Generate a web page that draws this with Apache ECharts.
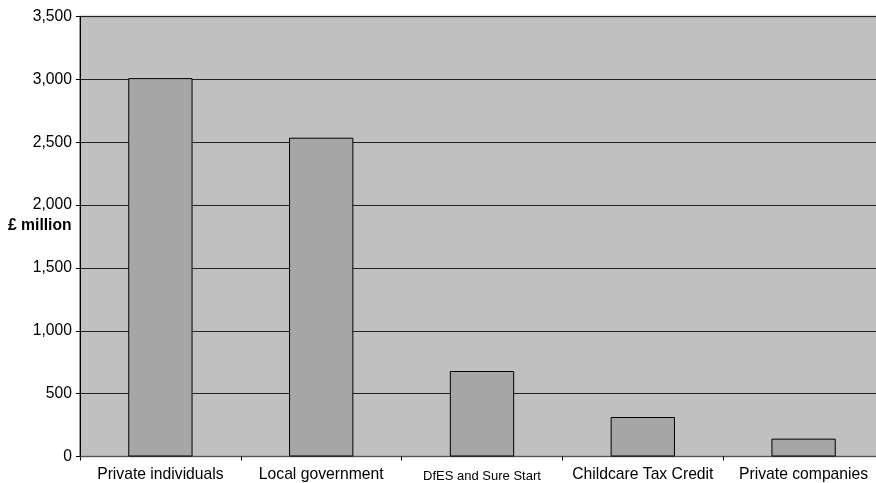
<!DOCTYPE html>
<html><head><meta charset="utf-8">
<script src="https://cdn.jsdelivr.net/npm/echarts@6/dist/echarts.min.js"></script>
<style>html,body{margin:0;padding:0;background:#fff;overflow:hidden;width:876px;height:483px}#c{width:884px;height:483px}</style>
</head><body><div id="c"></div>
<script>
var categories = ['Private individuals','Local government','DfES and Sure Start','Childcare Tax Credit','Private companies'];
var values = [3010, 2536, 680, 314, 142];
var yTicks = [0, 500, 1000, 1500, 2000, 2500, 3000, 3500];
var yName = '£ million';

var chart = echarts.init(document.getElementById('c'), null, {renderer:'canvas'});
var font = 'Liberation Sans, Arial, sans-serif';
chart.setOption({
  animation:false,
  backgroundColor:'#ffffff',
  grid:{left:80, right:0, top:16.5, bottom:26.5, show:true, backgroundColor:'#C0C0C0', borderColor:'#7a7a7a', borderWidth:1.5},
  graphic:[{type:'text', left:8, top:218, style:{text:yName, font:'bold 15.7px '+font, fill:'#000'}}],
  xAxis:{type:'category', data:categories.map(function(c){return c==='DfES and Sure Start'?{value:c,textStyle:{fontSize:13, padding:[3,0,0,0]}}:c;}),
    axisLine:{lineStyle:{color:'#555', width:1}}, axisTick:{show:true, length:4, lineStyle:{color:'#000'}},
    axisLabel:{color:'#000', fontSize:15.7, fontFamily:font, margin:10, interval:0, hideOverlap:false}},
  yAxis:{type:'value', min:yTicks[0], max:yTicks[yTicks.length-1], interval:500,
    axisLine:{show:true, lineStyle:{color:'#000'}}, axisTick:{show:true, length:4, lineStyle:{color:'#000'}},
    axisLabel:{color:'#000', fontSize:15.7, fontFamily:font, margin:8, formatter:function(v){return v.toLocaleString('en-US');}},
    splitLine:{show:true, lineStyle:{color:'#222', width:1}}},
  series:[{type:'bar', data:values, barWidth:'40%', itemStyle:{color:'#A6A6A6', borderColor:'#000', borderWidth:1}}]
});
</script></body></html>
